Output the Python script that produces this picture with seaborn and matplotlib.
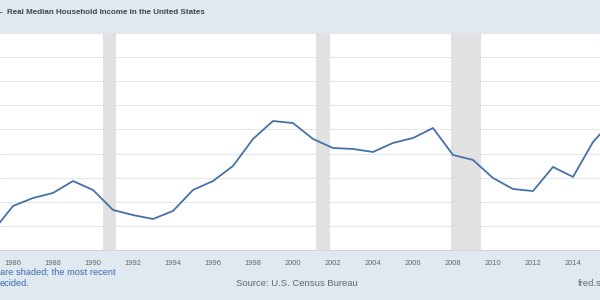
import numpy as np
import pandas as pd
import seaborn as sns
from matplotlib import pyplot as plt

# annual values (real dollars)
years = [1985, 1986, 1987, 1988, 1989, 1990, 1991, 1992, 1993, 1994, 1995,
         1996, 1997, 1998, 1999, 2000, 2001, 2002, 2003, 2004, 2005, 2006,
         2007, 2008, 2009, 2010, 2011, 2012, 2013, 2014, 2015, 2016]
income = [47580, 49650, 50310, 50730, 51720, 50980, 49320, 48900, 48570,
          49240, 50980, 51720, 52970, 55210, 56700, 56530, 55210, 54460,
          54380, 54130, 54880, 55290, 56120, 53880, 53470, 51970, 51060,
          50890, 52890, 52060, 54960, 56780]

# recession periods (start, end) as fractional years
rec_start = [1990.5, 2001.17, 2007.92]
rec_end = [1991.17, 2001.83, 2009.42]

tick_years = list(range(1986, 2016, 2))

df = pd.DataFrame({"year": years, "income": income})

sns.set_style("white")
plt.rcParams['font.family'] = ['Liberation Sans', 'DejaVu Sans']

bg = "#e1e9f0"
fig = plt.figure(figsize=(6, 3), dpi=100, facecolor=bg)
ax = fig.add_axes([0, 1 - 250 / 300, 1, 217 / 300])
ax.set_facecolor("white")

for s, e in zip(rec_start, rec_end):
    ax.axvspan(s, e, color="#e1e1e1", lw=0, zorder=1)

sns.lineplot(data=df, x="year", y="income", color="#4572a7", lw=1.3, ax=ax, zorder=3)

ax.set_xlim(1985.35, 2015.35)
ax.set_ylim(46000, 64000)
ax.set_yticks(np.arange(46000, 64001, 2000))
ax.yaxis.grid(True, color="#e6e6e6", lw=0.8, zorder=0)
ax.set_yticklabels([])
ax.tick_params(axis="y", length=0)
ax.set_xticks(tick_years)
ax.set_xticklabels([str(y) for y in tick_years], fontsize=5.4, color="#666666")
ax.tick_params(axis="x", length=3, width=0.5, color="#d0dbe6", pad=4, direction="out")
ax.set_xlabel("")
ax.set_ylabel("")
for sp in ax.spines.values():
    sp.set_visible(False)
ax.spines["bottom"].set_visible(True)
ax.spines["bottom"].set_color("#c8d4e0")
ax.spines["bottom"].set_linewidth(0.6)

# legend dash + title, partly cut at the left edge as in the source
fig.text(-0.004, 1 - 13 / 300, "–", fontsize=6, fontweight="bold",
         color="#444444", va="center", ha="left")
fig.text(7 / 600, 1 - 13 / 300, "Real Median Household Income in the United States",
         fontsize=5.8, fontweight="bold", color="#444444", va="center", ha="left")
fig.text(0, 1 - 272 / 300, "are shaded; the most recent", fontsize=6.7,
         color="#3a6ab0", va="center", ha="left")
fig.text(0, 1 - 284 / 300, "ecided.", fontsize=6.7, color="#3a6ab0",
         va="center", ha="left")
fig.text(236 / 600, 1 - 284 / 300, "Source: U.S. Census Bureau", fontsize=6.8,
         color="#666666", va="center", ha="left")
fig.text(578 / 600, 1 - 284 / 300, "fred.stlouisfed.org", fontsize=6.8,
         color="#666666", va="center", ha="left")

plt.savefig("out.png", dpi=100, facecolor=bg)
